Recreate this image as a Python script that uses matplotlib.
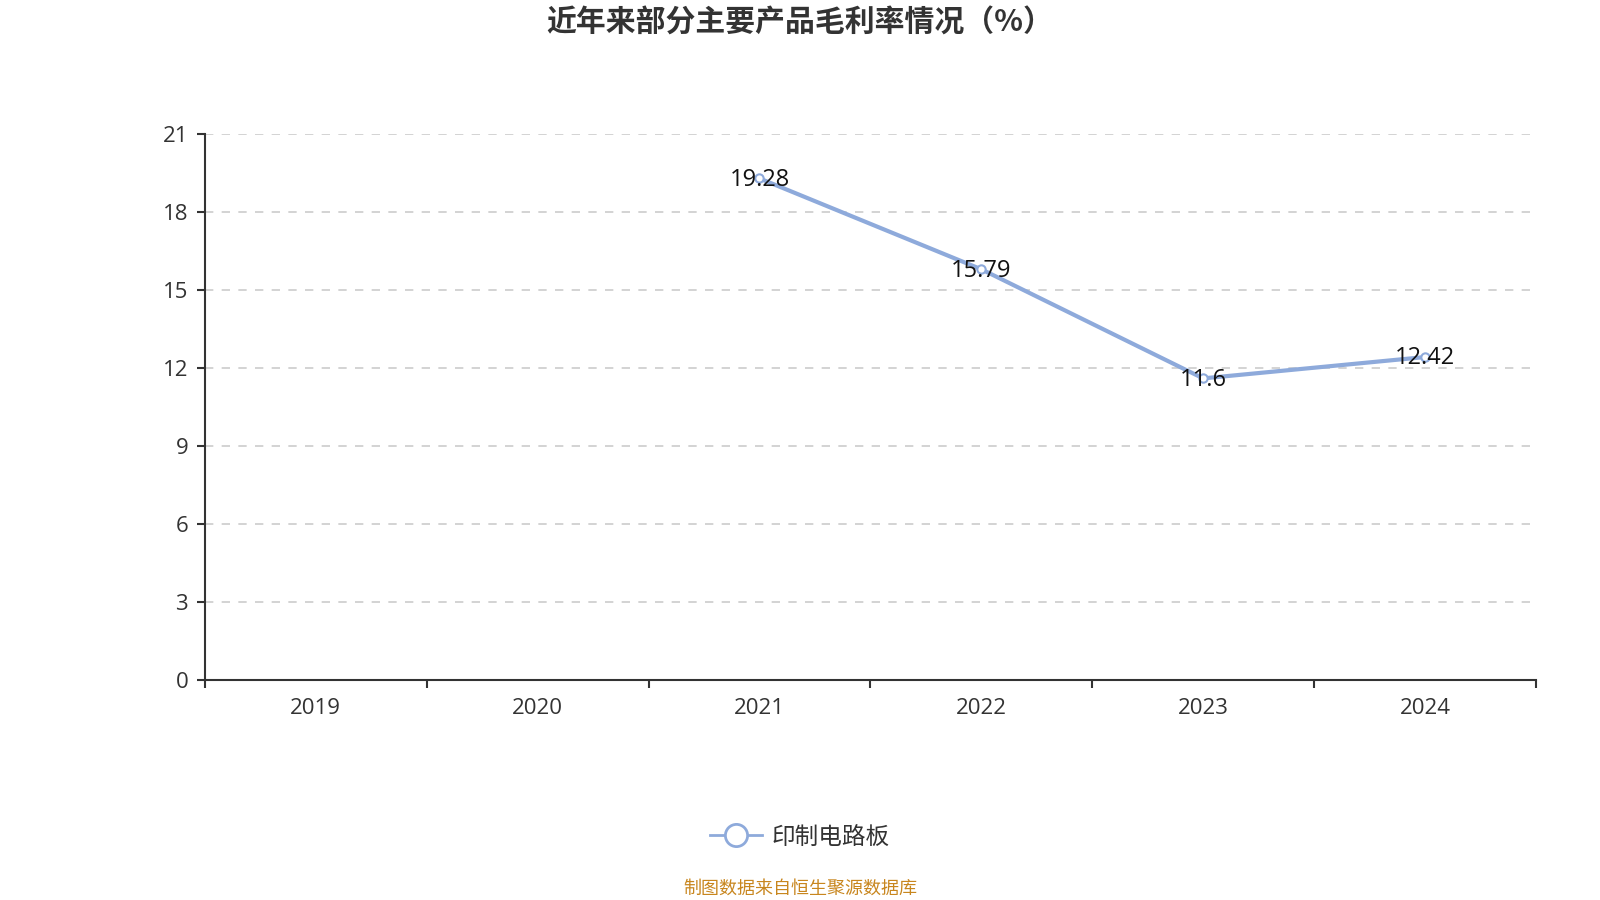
import matplotlib
matplotlib.use("Agg")
import matplotlib.pyplot as plt
from matplotlib.lines import Line2D
import numpy as np

plt.rcParams['font.family'] = ['Open Sans', 'Noto Sans CJK SC', 'DejaVu Sans']

# daten
years = ["2019", "2020", "2021", "2022", "2023", "2024"]
margin = [np.nan, np.nan, 19.28, 15.79, 11.6, 12.42]
margin_labels = ["", "", "19.28", "15.79", "11.6", "12.42"]
yticks = [0, 3, 6, 9, 12, 15, 18, 21]
series_name = "印制电路板"
title = "近年来部分主要产品毛利率情况（%）"
source = "制图数据来自恒生聚源数据库"

line_col = "#8eaadb"
text_col = "#333333"

fig = plt.figure(figsize=(16, 9), dpi=100)
ax = fig.add_axes([0.128, 0.244, 0.832, 0.6075])

x = np.arange(len(years))
ax.plot(x, margin, color=line_col, lw=3, marker="o", ms=6,
        mfc="white", mec=line_col, mew=1.5, zorder=3)

for xi, v, lab in zip(x, margin, margin_labels):
    if lab:
        ax.text(xi, v - 0.05, lab, ha="center", va="center", fontsize=17,
                color="#111111", zorder=4)

ax.set_xlim(-0.5, len(years) - 0.5)
ax.set_ylim(0, 21)
ax.set_yticks(yticks)
ax.set_yticklabels([str(t) for t in yticks], fontsize=16, color=text_col)
ax.set_xticks(np.arange(-0.5, len(years), 1.0))
ax.set_xticklabels([])
ax.set_xticks(x, minor=True)
ax.set_xticklabels(years, minor=True, fontsize=16, color=text_col)
ax.tick_params(axis="x", which="minor", length=0, pad=13)
ax.tick_params(axis="x", which="major", length=6, width=1.5, color=text_col)
ax.tick_params(axis="y", length=6, width=1.5, color=text_col, pad=6)

# gitterlinien
ax.grid(axis="y", ls=(0, (5, 5)), color="#cccccc", lw=1.2)
ax.set_axisbelow(True)
for s in ["top", "right"]:
    ax.spines[s].set_visible(False)
for s in ["left", "bottom"]:
    ax.spines[s].set_color(text_col)
    ax.spines[s].set_linewidth(1.5)

fig.text(0.5, 0.975, title, ha="center", va="center", fontsize=21.5,
         fontweight="bold", color=text_col, family=['Noto Sans CJK SC', 'DejaVu Sans'])

handle = Line2D([], [], color=line_col, lw=2, marker="o", ms=16,
                mfc="white", mec=line_col, mew=2)
leg = fig.legend([handle], [series_name], loc="center", bbox_to_anchor=(0.5, 0.07),
                 frameon=False, handlelength=2.2, handletextpad=0.4,
                 prop={"family": ['Noto Sans CJK SC', 'DejaVu Sans'], "size": 17})
for t in leg.get_texts():
    t.set_color(text_col)

fig.text(0.5, 0.013, source, ha="center", va="center", fontsize=13,
         color="#c8861e", family=['Noto Sans CJK SC', 'DejaVu Sans'])

fig.savefig("out.png", dpi=100)
